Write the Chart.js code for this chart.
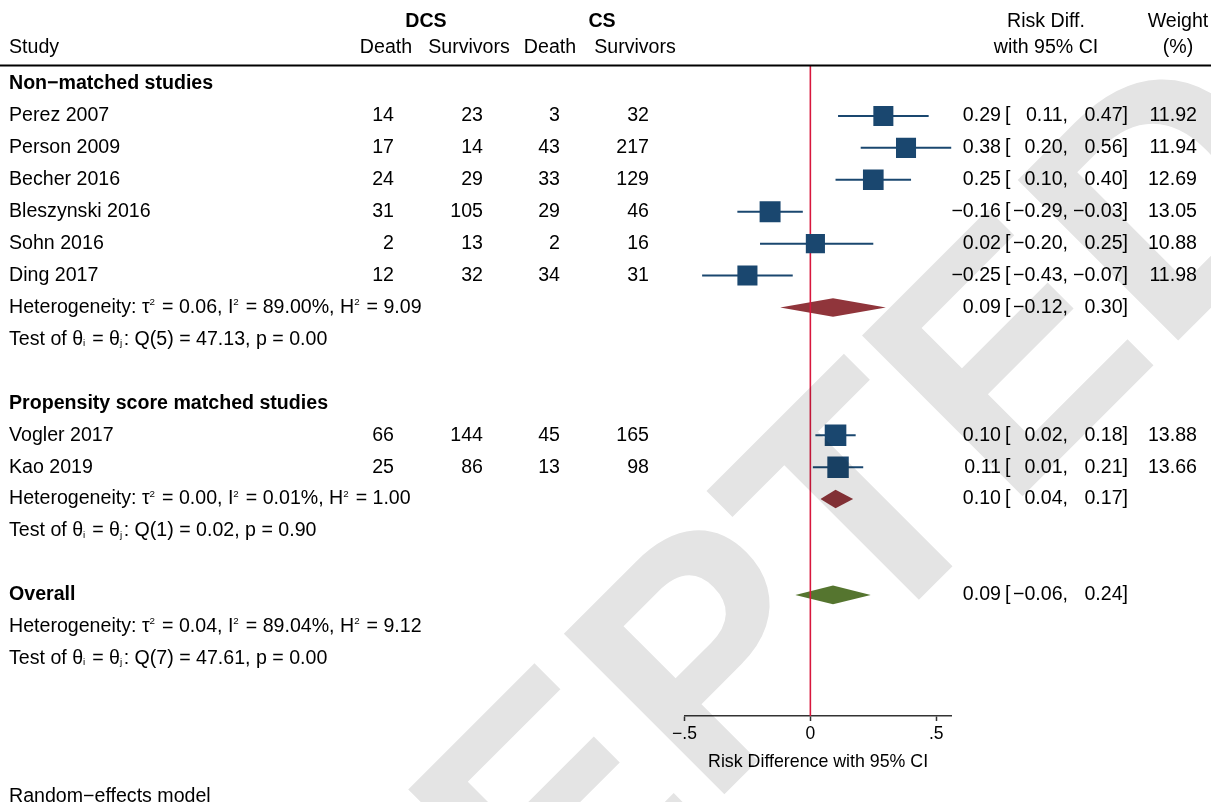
<!DOCTYPE html>
<html><head><meta charset="utf-8">
<script src="https://cdn.jsdelivr.net/npm/chart.js@4.4.1/dist/chart.umd.min.js"></script>
<style>html,body{margin:0;padding:0;background:#fff;overflow:hidden}#wrap{width:1211px;height:802px;position:relative}</style>
</head><body><div id="wrap"><canvas id="c"></canvas></div>
<script>
// ---------- data ----------
const studies = ['Perez 2007','Person 2009','Becher 2016','Bleszynski 2016','Sohn 2016','Ding 2017','Vogler 2017','Kao 2019'];
const studyGroup = [0,0,0,0,0,0,1,1];
const dcsDeath = [14,17,24,31,2,12,66,25];
const dcsSurvivors = [23,14,29,105,13,32,144,86];
const csDeath = [3,43,33,29,2,34,45,13];
const csSurvivors = [32,217,129,46,16,31,165,98];
const riskDiff = [0.29,0.38,0.25,-0.16,0.02,-0.25,0.10,0.11];
const ciLower = [0.11,0.20,0.10,-0.29,-0.20,-0.43,0.02,0.01];
const ciUpper = [0.47,0.56,0.40,-0.03,0.25,-0.07,0.18,0.21];
const weights = [11.92,11.94,12.69,13.05,10.88,11.98,13.88,13.66];
const groupNames = ['Non−matched studies','Propensity score matched studies'];
const groupRD = [0.09,0.10];
const groupLower = [-0.12,0.04];
const groupUpper = [0.30,0.17];
const groupTau2 = [0.06,0.00];
const groupI2 = [89.00,0.01];
const groupH2 = [9.09,1.00];
const groupQdf = [5,1];
const groupQ = [47.13,0.02];
const groupP = [0.00,0.90];
const overallRD = 0.09, overallLower = -0.06, overallUpper = 0.24;
const overallTau2 = 0.04, overallI2 = 89.04, overallH2 = 9.12, overallQdf = 7, overallQ = 47.61, overallP = 0.00;
const xTickValues = [-0.5, 0, 0.5];
const xTickLabels = ['−.5', '0', '.5'];
const xMin = -0.5, xMax = 0.5615;
const axisTitle = 'Risk Difference with 95% CI';
const modelNote = 'Random−effects model';

// ---------- row layout ----------
const studyRow = [], groupHeadRow = [], groupHetRow = [], groupTestRow = [];
let r = 0;
groupNames.forEach((g, gi) => {
  groupHeadRow[gi] = r++;
  studies.forEach((s, si) => { if (studyGroup[si] === gi) studyRow[si] = r++; });
  groupHetRow[gi] = r++;
  groupTestRow[gi] = r++;
  r++;
});
const overallRow = r, overallHetRow = r + 1, overallTestRow = r + 2;
const ROW0 = 84, ROWH = 31.93, TOP = 65, BOTTOM = 716;
const yMin = (TOP - ROW0) / ROWH, yMax = (BOTTOM - ROW0) / ROWH;

// ---------- styles ----------
const navy = '#1a476f', maroon = '#90353b', green = '#55752f', refRed = '#d8173d';
const FONT = '"Liberation Sans", Arial, Helvetica, sans-serif';
const FS = 19.6;
const fmt = v => (v < 0 ? '−' : '') + Math.abs(v).toFixed(2);

// ---------- datasets ----------
const datasets = [];
datasets.push({ type: 'scatter', order: 0, data: studies.map((s, i) => ({ x: riskDiff[i], y: studyRow[i] })),
  pointStyle: 'rect', pointRadius: weights.map(w => 5.8 * Math.sqrt(w) / Math.SQRT2),
  backgroundColor: navy, borderWidth: 0 });
datasets.push({ type: 'line', order: 1, data: [{ x: 0, y: yMin }, { x: 0, y: yMax }],
  borderColor: refRed, borderWidth: 1.6, pointRadius: 0, fill: false });
studies.forEach((s, i) => datasets.push({ type: 'line', order: 2,
  data: [{ x: ciLower[i], y: studyRow[i] }, { x: ciUpper[i], y: studyRow[i] }],
  borderColor: navy, borderWidth: 2, pointRadius: 0, fill: false }));
function addDiamond(est, lo, hi, row, color) {
  const h = 0.29;
  datasets.push({ type: 'line', order: 3, data: [{ x: lo, y: row }, { x: est, y: row - h }, { x: hi, y: row }],
    borderColor: 'rgba(0,0,0,0)', borderWidth: 0, pointRadius: 0, fill: false });
  datasets.push({ type: 'line', order: 3, data: [{ x: lo, y: row }, { x: est, y: row + h }, { x: hi, y: row }],
    borderColor: 'rgba(0,0,0,0)', borderWidth: 0, pointRadius: 0, fill: '-1', backgroundColor: color });
}
groupNames.forEach((g, gi) => addDiamond(groupRD[gi], groupLower[gi], groupUpper[gi], groupHetRow[gi], maroon));
addDiamond(overallRD, overallLower, overallUpper, overallRow, green);

// ---------- text helpers ----------
function put(ctx, s, x, y, align, bold, size) {
  ctx.font = (bold ? 'bold ' : '') + (size || FS) + 'px ' + FONT;
  ctx.textAlign = align || 'left';
  ctx.fillText(s, x, y);
}
function rich(ctx, str, x, y, size) {
  const segs = []; let i = 0, buf = '';
  while (i < str.length) {
    const c = str[i];
    if ((c === '^' || c === '_') && i + 1 < str.length) {
      if (buf) { segs.push({ t: buf }); buf = ''; }
      segs.push({ t: str[i + 1], k: c }); i += 2;
    } else { buf += c; i++; }
  }
  if (buf) segs.push({ t: buf });
  let cx = x;
  ctx.textAlign = 'left';
  segs.forEach(s => {
    const fsz = s.k ? size * 0.5 : size;
    ctx.font = fsz + 'px ' + FONT;
    const dy = s.k === '^' ? -size * 0.27 : s.k === '_' ? size * 0.2 : 0;
    ctx.fillText(s.t, cx, y + dy);
    cx += ctx.measureText(s.t).width + (s.k ? 1.5 : 0);
  });
}
const hetStr = (t, i2, h2) => 'Heterogeneity: τ^2 = ' + t.toFixed(2) + ', I^2 = ' + i2.toFixed(2) + '%, H^2 = ' + h2.toFixed(2);
const testStr = (df, q, p) => 'Test of θ_i = θ_j: Q(' + df + ') = ' + q.toFixed(2) + ', p = ' + p.toFixed(2);

function ciText(ctx, est, lo, hi, y) {
  put(ctx, fmt(est), 1001, y, 'right');
  put(ctx, '[', 1005, y, 'left');
  put(ctx, fmt(lo) + ',', 1068, y, 'right');
  put(ctx, fmt(hi) + ']', 1128, y, 'right');
}

const textPlugin = {
  id: 'forestText',
  afterDraw(chart) {
    const ctx = chart.ctx, ys = chart.scales.y;
    const Y = v => ys.getPixelForValue(v);
    ctx.save();
    ctx.fillStyle = '#000';
    ctx.textBaseline = 'middle';
    // header
    put(ctx, 'DCS', 426, 22, 'center', true);
    put(ctx, 'CS', 602, 22, 'center', true);
    put(ctx, 'Study', 9, 48, 'left');
    put(ctx, 'Death', 386, 48, 'center');
    put(ctx, 'Survivors', 469, 48, 'center');
    put(ctx, 'Death', 550, 48, 'center');
    put(ctx, 'Survivors', 635, 48, 'center');
    put(ctx, 'Risk Diff.', 1046, 22, 'center');
    put(ctx, 'with 95% CI', 1046, 48, 'center');
    put(ctx, 'Weight', 1178, 22, 'center');
    put(ctx, '(%)', 1178, 48, 'center');
    // header rule
    ctx.strokeStyle = '#000'; ctx.lineWidth = 2;
    ctx.beginPath(); ctx.moveTo(0, 65.5); ctx.lineTo(1211, 65.5); ctx.stroke();
    // groups
    groupNames.forEach((g, gi) => {
      put(ctx, g, 9, Y(groupHeadRow[gi]), 'left', true);
      rich(ctx, hetStr(groupTau2[gi], groupI2[gi], groupH2[gi]), 9, Y(groupHetRow[gi]), FS);
      rich(ctx, testStr(groupQdf[gi], groupQ[gi], groupP[gi]), 9, Y(groupTestRow[gi]), FS);
      ciText(ctx, groupRD[gi], groupLower[gi], groupUpper[gi], Y(groupHetRow[gi]));
    });
    studies.forEach((s, i) => {
      const y = Y(studyRow[i]);
      put(ctx, s, 9, y, 'left');
      put(ctx, String(dcsDeath[i]), 394, y, 'right');
      put(ctx, String(dcsSurvivors[i]), 483, y, 'right');
      put(ctx, String(csDeath[i]), 560, y, 'right');
      put(ctx, String(csSurvivors[i]), 649, y, 'right');
      ciText(ctx, riskDiff[i], ciLower[i], ciUpper[i], y);
      put(ctx, weights[i].toFixed(2), 1197, y, 'right');
    });
    put(ctx, 'Overall', 9, Y(overallRow), 'left', true);
    rich(ctx, hetStr(overallTau2, overallI2, overallH2), 9, Y(overallHetRow), FS);
    rich(ctx, testStr(overallQdf, overallQ, overallP), 9, Y(overallTestRow), FS);
    ciText(ctx, overallRD, overallLower, overallUpper, Y(overallRow));
    ctx.textBaseline = 'alphabetic';
    put(ctx, modelNote, 9, 802, 'left');
    ctx.restore();
    // watermark
    ctx.save();
    ctx.globalCompositeOperation = 'multiply';
    ctx.fillStyle = '#e4e4e4';
    ctx.translate(625, 765);
    ctx.rotate(-Math.PI / 4);
    ctx.font = 'bold 330px ' + FONT;
    ctx.textAlign = 'center'; ctx.textBaseline = 'middle';
    ctx.fillText('ACCEPTED', 0, 0);
    ctx.restore();
  }
};

new Chart(document.getElementById('c'), {
  type: 'line',
  data: { datasets },
  options: {
    responsive: true, maintainAspectRatio: false, animation: false, devicePixelRatio: 1,
    events: [],
    layout: { padding: { left: 684.5, right: 259.3, top: TOP, bottom: 0 } },
    plugins: { legend: { display: false }, tooltip: { enabled: false } },
    scales: {
      x: {
        type: 'linear', min: xMin, max: xMax, position: 'bottom',
        afterBuildTicks: a => { a.ticks = xTickValues.map(v => ({ value: v })); },
        afterFit: a => { a.height = 802 - BOTTOM; },
        ticks: { callback: v => xTickLabels[xTickValues.indexOf(v)], color: '#000', font: { family: FONT, size: 17.5 }, padding: 3, maxRotation: 0, autoSkip: false },
        grid: { drawOnChartArea: false, drawTicks: true, tickLength: 5, tickColor: '#333', tickWidth: 1.5 },
        border: { display: true, color: '#333', width: 1.5 },
        title: { display: true, text: axisTitle, color: '#000', font: { family: FONT, size: 17.8 }, padding: { top: 0, bottom: 29 } }
      },
      y: { type: 'linear', display: false, min: yMin, max: yMax, reverse: true }
    }
  },
  plugins: [textPlugin]
});
</script></body></html>
